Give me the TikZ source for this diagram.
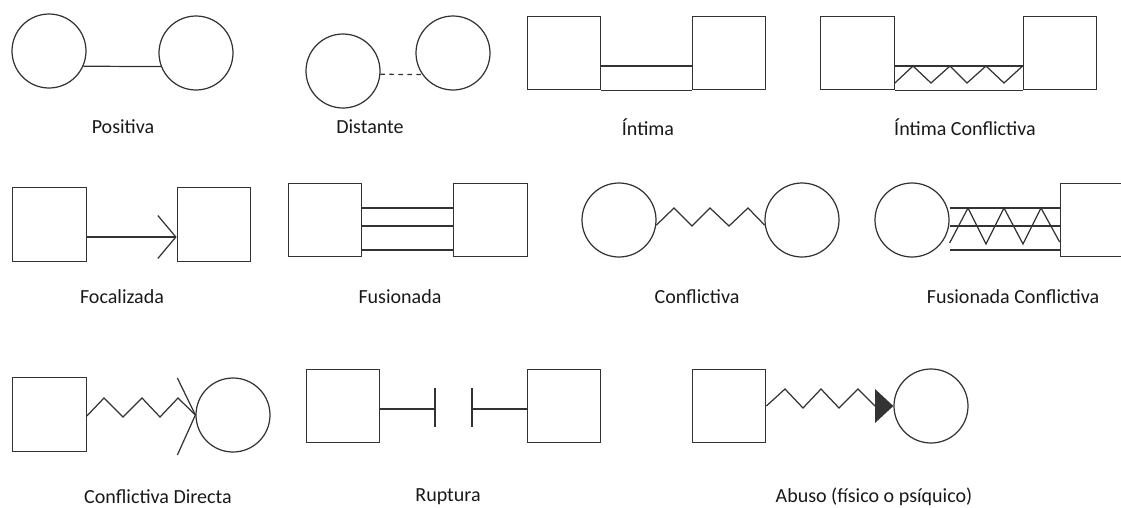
\documentclass[tikz,border=0pt]{standalone}
\usepackage{fontspec}
\setmainfont{Carlito}
\usetikzlibrary{arrows.meta}
\newcommand{\etiq}{\fontsize{11.4}{13}\selectfont}

\begin{document}
\begin{tikzpicture}[x=0.2mm,y=-0.2mm,line width=0.7pt,color=black!80,
  persona/.style={circle,draw,minimum size=14.8mm,inner sep=0pt},
  caja/.style={draw,minimum size=14.7mm,inner sep=0pt},
  etiqueta/.style={font=\etiq,text=black!90}]
\useasboundingbox (0,0) rectangle (1121,507);
% fila 1
\node[persona] (pos1) at (49,51) {};
\node[persona] (pos2) at (196,53) {};
\draw (pos1.-24) -- (pos2.201);
\node[etiqueta] (lpos) at (123,127) {Positiva};

\node[persona] (dis1) at (343,71) {};
\node[persona] (dis2) at (453,53) {};
\draw[dash pattern=on 0.9mm off 0.9mm] (dis1.-5) -- (dis2.215);
\node[etiqueta] (ldis) at (370,127) {Distante};

\node[caja] (int1) at (564,53) {};
\node[caja] (int2) at (729,53) {};
\draw (int1.east |- 0,66) -- (int2.west |- 0,66);
\draw (int1.south east) -- (int2.south west);
\node[etiqueta] (lint) at (648,127) {Íntima};

\node[caja] (ic1) at (857.5,53) {};
\node[caja] (ic2) at (1060,53) {};
\draw (ic1.east |- 0,66) -- (ic2.west |- 0,66);
\draw (ic1.south east) -- (ic2.south west);
\draw (ic1.east |- 0,83) -- (913,66) -- (931,83) -- (950,66) -- (967,83)
  -- (986,66) -- (1004,83) -- (ic2.west |- 0,66);
\node[etiqueta] (lic) at (965,127) {Íntima Conflictiva};

% fila 2
\node[caja] (foc1) at (49.5,224.5) {};
\node[caja] (foc2) at (214,224.5) {};
\draw[-{Straight Barb[length=3.6mm,width=8.6mm]}] (foc1.east |- 0,237) -- (foc2.west |- 0,237);
\node[etiqueta] (lfoc) at (122,297) {Focalizada};

\node[caja] (fus1) at (325,220) {};
\node[caja] (fus2) at (490.5,220) {};
\foreach \y in {208,226,250}
  \draw (fus1.east |- 0,\y) -- (fus2.west |- 0,\y);
\node[etiqueta] (lfus) at (400,297) {Fusionada};

\node[persona] (con1) at (619,220) {};
\node[persona] (con2) at (802,220) {};
\draw (con1.-8) -- (674,208) -- (692,226) -- (710,208) -- (729,226)
  -- (748,208) -- (con2.188);
\node[etiqueta] (lcon) at (697,297) {Conflictiva};

\node[persona] (fc1) at (912,220) {};
\node[caja] (fc2) at (1097,220) {};
\foreach \y in {208,226,250}
  \draw (fc1.east |- 0,\y) -- (fc2.west |- 0,\y);
\draw (fc1.east |- 0,243) -- (968,208) -- (986,244) -- (1004,208) -- (1023,244)
  -- (1041,208) -- (fc2.west |- 0,242);
\node[etiqueta] (lfc) at (1013,297) {Fusionada Conflictiva};

% fila 3
\node[caja] (cd1) at (49.5,414.5) {};
\node[persona] (cd2) at (233,415) {};
\draw (cd1.east |- 0,416) -- (104,398) -- (123,417) -- (142,398) -- (160,417)
  -- (178,398) -- (cd2.west);
\draw (cd2.west) ++(-18,-37) -- (cd2.west) -- ++(-18,40);
\node[etiqueta] (lcd) at (158,497) {Conflictiva Directa};

\node[caja] (rup1) at (343,406) {};
\node[caja] (rup2) at (564,406) {};
\coordinate (corte1) at (435,409);
\coordinate (corte2) at (472,409);
\draw (rup1.east |- corte1) -- (corte1);
\draw (corte1) ++(0,-21) -- ++(0,39);
\draw (corte2) ++(0,-21) -- ++(0,39);
\draw (corte2) -- (rup2.west |- corte2);
\node[etiqueta] (lrup) at (448,497) {Ruptura};

\node[caja] (ab1) at (729,406) {};
\node[persona] (ab2) at (931,406) {};
\draw (ab1.east) -- (785,389) -- (803,408) -- (821,389) -- (839,408)
  -- (858,389) -- (875,406);
\fill (875,389) -- (ab2.west) -- (875,423) -- cycle;
\node[etiqueta] (lab) at (874,497) {Abuso (físico o psíquico)};
\end{tikzpicture}
\end{document}
